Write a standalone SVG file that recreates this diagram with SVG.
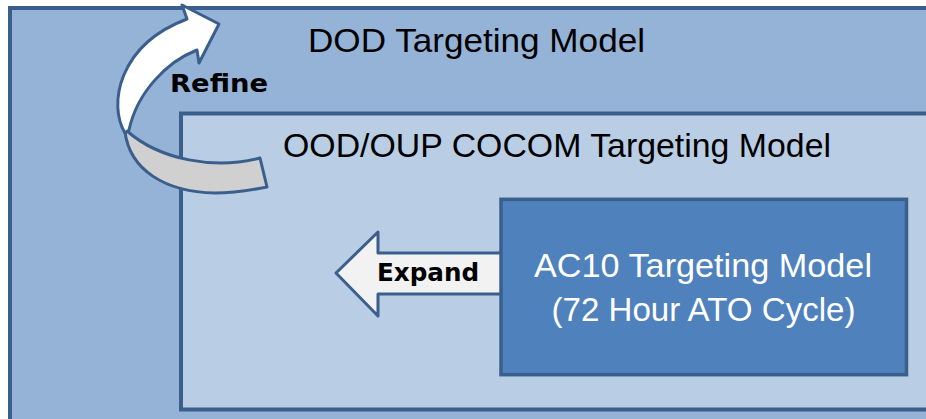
<svg xmlns="http://www.w3.org/2000/svg" width="926" height="419" viewBox="0 0 926 419">
<style>
.box{stroke:#3B5F8D;}
.title{font-family:"Liberation Sans",Arial,sans-serif;font-size:34px;fill:#000;}
.lbl{font-family:"DejaVu Sans","Liberation Sans",sans-serif;font-weight:bold;font-size:24px;fill:#000;}
.arr{stroke:#3B5F8D;stroke-width:3;stroke-linejoin:round;}
</style>
<rect width="926" height="419" fill="#FFFFFF"/>
<g id="dod">
<rect class="box" x="10" y="8" width="940" height="430" fill="#95B3D7" stroke-width="4"/>
<text class="title" x="308" y="52" textLength="337" lengthAdjust="spacingAndGlyphs">DOD Targeting Model</text>
</g>
<g id="ood">
<rect class="box" x="181" y="113.5" width="770" height="296" fill="#B9CDE5" stroke-width="4"/>
<text class="title" x="283" y="157" textLength="548" lengthAdjust="spacingAndGlyphs">OOD/OUP COCOM Targeting Model</text>
</g>
<g id="connectors">
<g id="refine">
<path class="arr" fill="#D0D0D0" d="M125,132 C130,170 165,192 215,193 C235,193 252,190 267,187 L260,158 C215,170 160,160 127,131 Z"/>
<path class="arr" fill="#FFFFFF" d="M125,133 C108,105 118,45 187,19 L182,5 L219,24 L199,63 L197,50 C166,62 137,93 129,130 Z"/>
<text class="lbl" x="170" y="92" textLength="98" lengthAdjust="spacingAndGlyphs">Refine</text>
</g>
<g id="expand">
<path class="arr" fill="#F2F2F2" d="M501,253 L378,253 L378,232 L336,273 L378,316 L378,294 L501,294"/>
<text class="lbl" x="377" y="281" textLength="102" lengthAdjust="spacingAndGlyphs">Expand</text>
</g>
</g>
<g id="ac10">
<rect class="box" x="501" y="199.3" width="405.5" height="175.4" fill="#4F81BD" stroke-width="3.5"/>
<text class="title" x="703" y="277" text-anchor="middle" style="fill:#FFFFFF" textLength="338" lengthAdjust="spacingAndGlyphs">AC10 Targeting Model</text>
<text class="title" x="703.5" y="321" text-anchor="middle" style="fill:#FFFFFF" textLength="304" lengthAdjust="spacingAndGlyphs">(72 Hour ATO Cycle)</text>
</g>
</svg>
